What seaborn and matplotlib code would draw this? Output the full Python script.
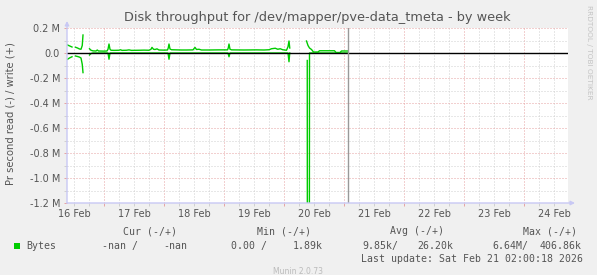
import numpy as np
import pandas as pd
import matplotlib
matplotlib.use("Agg")
import matplotlib.pyplot as plt
from matplotlib.patches import Rectangle
import seaborn as sns

# ---------------- data (hours since 16 Feb 00:00, values in kB/s) ----------------
nan = np.nan
write_hours = [9.4, 10.2, 11.2, 11.8,
               12.6, 13.4, 14.2, 14.8, 15.3, 15.6, 16.0,
               18.2, 18.8, 19.6, 20.8, 21.3, 21.8, 24, 25.2, 25.6, 26.0, 26.4, 26.8,
               28, 30, 30.6, 31.2, 33, 34, 35, 38, 40, 42, 42.8, 43.2, 43.8, 44.4,
               45.2, 46, 48, 49.4, 49.7, 50, 50.4, 51, 53, 55, 57, 59.6, 60.4, 61,
               62, 63, 66, 70, 73.4, 73.7, 74, 74.4, 75, 80, 85, 88, 90, 91, 92.5,
               93.5, 94.5, 95.5, 97, 97.6, 98, 98.3, 98.8,
               105.0, 105.6, 106.2, 107, 107.8, 109.6, 110.2, 116.2, 116.8, 118.4,
               119, 121.6]
write_kb = [64, 57, 48, nan,
            46, 40, 32, 30, 60, 144, nan,
            34, 22, 17, 16, 24, 16, 15, 16, 30, 72, 30, 22,
            21, 22, 26, 21, 22, 25, 21, 22, 23, 22, 30, 45, 30, 28,
            33, 24, 23, 24, 40, 72, 32, 26, 25, 24, 24, 25, 45, 28,
            30, 24, 24, 25, 25, 40, 72, 30, 25, 24, 25, 24, 26, 34, 38,
            30, 34, 26, 22, 50, 96, 40, nan,
            96, 60, 40, 28, 8, 8, 18, 18, 4, 4,
            16, 16]

read_hours = [9.4, 10.2, 11.2, 11.8,
              12.6, 13.4, 14.2, 14.8, 15.3, 15.6, 16.0,
              18.2, 18.8, 19.6, 25.6, 26.0, 26.4, 49.6, 50.0, 50.4, 73.6, 74.0,
              74.4, 97.6, 98.0, 98.3, 98.8,
              105.3, 105.5, 106.0, 106.2, 121.6]
read_kb = [-50, -40, -30, nan,
           -24, -28, -33, -40, -90, -157, nan,
           -16, -4, 0, 0, -50, 0, 0, -50, 0, 0, -30,
           0, 0, -70, 0, nan,
           -60, -6640, -6000, 0, 0]

now_hour = 121.6
day_lines = [24, 48, 72, 96, 120, 144, 168, 192]
day_label_hours = [12, 36, 60, 84, 108, 132, 156, 180, 204]
day_labels = ["16 Feb", "17 Feb", "18 Feb", "19 Feb", "20 Feb",
              "21 Feb", "22 Feb", "23 Feb", "24 Feb"]
y_ticks = [-1.2e6, -1.0e6, -0.8e6, -0.6e6, -0.4e6, -0.2e6, 0.0, 0.2e6]
y_tick_labels = ["-1.2 M", "-1.0 M", "-0.8 M", "-0.6 M", "-0.4 M", "-0.2 M", "0.0", "0.2 M"]

title = "Disk throughput for /dev/mapper/pve-data_tmeta - by week"
ylabel = "Pr second read (-) / write (+)"
legend_headers = ["Cur (-/+)", "Min (-/+)", "Avg (-/+)", "Max (-/+)"]
legend_values = ["-nan /", "-nan", "0.00 /", "1.89k", "9.85k/", "26.20k", "6.64M/", "406.86k"]
series_name = "Bytes"
last_update = "Last update: Sat Feb 21 02:00:18 2026"
footer = "Munin 2.0.73"
side_text = "RRDTOOL / TOBI OETIKER"


def build(hours, vals, name):
    df = pd.DataFrame({"hour": hours, "kb": vals})
    df["seg"] = df["kb"].isna().cumsum()
    df = df.dropna().copy()
    df["value"] = df["kb"] * 1000.0
    df["unit"] = name + df["seg"].astype(str)
    return df


df = pd.concat([build(write_hours, write_kb, "w"), build(read_hours, read_kb, "r")],
               ignore_index=True)

# ---------------- figure ----------------
W, H = 597, 275
fig = plt.figure(figsize=(W / 100, H / 100), dpi=100, facecolor="#F0F0F0")
L, R, T, B = 67, 568, 28, 203
ax = fig.add_axes([L / W, 1 - B / H, (R - L) / W, (B - T) / H])
ax.set_facecolor("white")

xmin, xmax = (L - 44) / 2.5, (R - 44) / 2.5
ax.set_xlim(xmin, xmax)
ax.set_ylim(-1.2e6, 0.2e6)

for s in ax.spines.values():
    s.set_visible(False)

# grid
minor_x = [h for h in np.arange(12, 210, 6) if h % 24 != 0]
ax.set_xticks(day_lines)
ax.set_xticklabels([])
ax.set_xticks(minor_x, minor=True)
ax.set_yticks(y_ticks)
ax.set_yticklabels(y_tick_labels)
ax.set_yticks([-1.1e6, -0.9e6, -0.7e6, -0.5e6, -0.3e6, -0.1e6, 0.1e6], minor=True)
ax.grid(which="minor", color="#D0D0D0", lw=0.72, ls=(0, (1, 2)))
ax.grid(which="major", color="#E6A3A3", lw=0.72, ls=(0, (1, 2)))
ax.set_axisbelow(True)
ax.tick_params(axis="both", which="major", length=2, width=0.7, color="#E6A3A3",
               labelsize=7, labelcolor="#555555", direction="out", pad=3)
ax.tick_params(axis="both", which="minor", length=2, width=0.7, color="#D0D0D0",
               direction="out")
for lab in ax.get_yticklabels():
    lab.set_fontfamily("DejaVu Sans")

sec = ax.secondary_xaxis("bottom")
sec.set_xticks(day_label_hours)
sec.set_xticklabels(day_labels)
sec.tick_params(length=0, labelsize=7, labelcolor="#555555", pad=4.5)
for s in sec.spines.values():
    s.set_visible(False)

# data
sns.lineplot(data=df, x="hour", y="value", units="unit", estimator=None, sort=False,
             color="#00CC00", lw=1, ax=ax, legend=False, zorder=2)
ax.axhline(0, color="black", lw=1, zorder=3)
ax.axvline(now_hour, color="#999999", lw=1, zorder=3)
ax.set_xlabel("")
ax.set_ylabel("")

# axis arrows
axis_col = "#C8C8F4"
ax.annotate("", xy=(0, 1 + 7 / (B - T)), xytext=(0, 0), xycoords="axes fraction",
            arrowprops=dict(arrowstyle="-|>", color=axis_col, lw=1, mutation_scale=6,
                            shrinkA=0, shrinkB=0), annotation_clip=False)
ax.annotate("", xy=(1 + 7 / (R - L), 0), xytext=(0, 0), xycoords="axes fraction",
            arrowprops=dict(arrowstyle="-|>", color=axis_col, lw=1, mutation_scale=6,
                            shrinkA=0, shrinkB=0), annotation_clip=False)

# texts
def fx(x):
    return x / W


def fy(y):
    return 1 - y / H


fig.text(fx(317.5), fy(18), title, ha="center", va="center", fontsize=9.3,
         color="#555555", family="DejaVu Sans")
fig.text(fx(11), fy(114), ylabel, ha="center", va="center", rotation=90,
         fontsize=7.2, color="#555555", family="DejaVu Sans")
fig.text(fx(589), fy(52), side_text, ha="center", va="center", rotation=270,
         fontsize=5.3, color="#C4C4C4", family="DejaVu Sans")

mono = dict(family="DejaVu Sans Mono", fontsize=7.15, color="#555555", va="center")
for txt, cx in zip(legend_headers, [150, 284, 417, 550]):
    fig.text(fx(cx), fy(231), txt, ha="center", **mono)
fig.patches.append(Rectangle((fx(14), fy(248.7)), 6 / W, 6 / H, transform=fig.transFigure,
                             facecolor="#00CC00", edgecolor="none"))
fig.text(fx(26), fy(245.7), series_name, ha="left", **mono)
for txt, x0 in zip(legend_values, [102, 163, 231, 293, 362, 417, 492, 540]):
    fig.text(fx(x0), fy(245.7), txt, ha="left", **mono)
fig.text(fx(583), fy(259), last_update, ha="right", **mono)
fig.text(fx(298), fy(272), footer, ha="center", va="center", fontsize=5.5,
         color="#BBBBBB", family="DejaVu Sans")

fig.savefig("out.png", dpi=100, facecolor=fig.get_facecolor())
